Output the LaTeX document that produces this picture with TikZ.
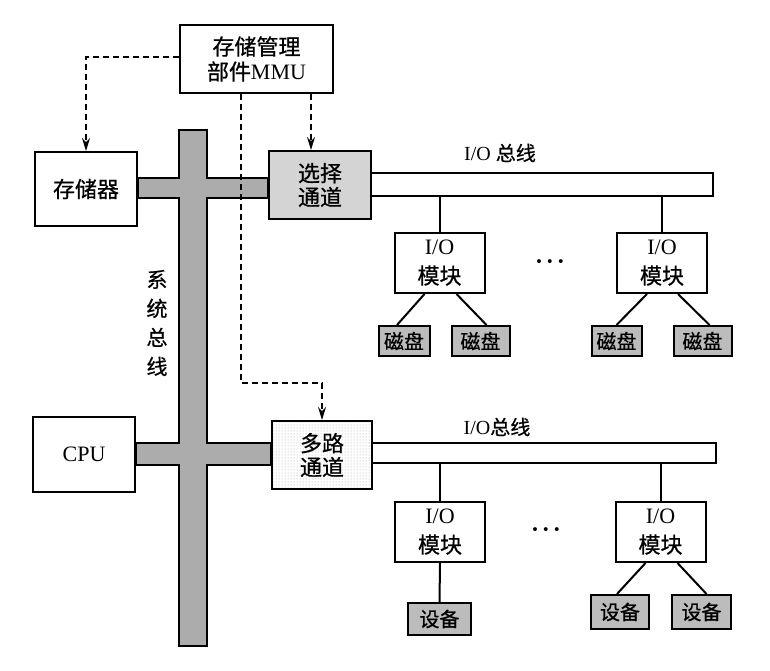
\documentclass[tikz,border=0pt]{standalone}
\usepackage{fontspec}
\setmainfont{Liberation Serif}
\newfontfamily\cjk{Noto Sans CJK SC}[FakeBold=0.7]
\usepackage{xcolor}
\usepackage{tikz}
\usetikzlibrary{arrows.meta,positioning,patterns,backgrounds}
\definecolor{busgray}{RGB}{172,172,172}
\definecolor{chgray}{RGB}{212,212,212}
\definecolor{diskgray}{RGB}{188,188,188}

\begin{document}
\begin{tikzpicture}[x=1pt, y=-1pt,
  box/.style={draw, line width=2pt, fill=white, inner sep=0pt, align=center,
    font=\fontsize{22}{25}\selectfont},
  modbox/.style={box, minimum width=90, minimum height=60, font=\fontsize{22}{29}\selectfont},
  smallbox/.style={draw, line width=2pt, fill=diskgray, inner sep=0pt, minimum height=30,
    font=\fontsize{20}{22}\selectfont\cjk},
  bus/.style={draw, line width=2pt, fill=busgray},
  iobus/.style={draw, line width=2pt},
  link/.style={line width=2pt},
  ctrl/.style={line width=1.4pt, dash pattern=on 6pt off 4pt, -{Stealth[length=13pt,width=8pt]}},
  buslabel/.style={font=\fontsize{20}{22}\selectfont},
  ellip/.style={font=\fontsize{24}{24}\selectfont\bfseries}]
  \useasboundingbox (0,0) rectangle (770,671);

  % top half: memory, MMU, selector channel
  \node[box, minimum width=153, minimum height=68] (mmu) at (256.5,59) {{\cjk 存储管理}\\{\cjk 部件}MMU};
  \node[box, minimum width=102, minimum height=74, font=\fontsize{22}{25}\selectfont\cjk] (mem) at (86,189) {存储器};
  \node[box, fill=chgray, minimum width=102, minimum height=68, font=\fontsize{22}{24}\selectfont\cjk] (sel) at (320,185) {选择\\通道};
  \node[modbox] (modA1) at (439.5,263) {I/O\\{\cjk 模块}};
  \node[modbox] (modA2) at (662,263) {I/O\\{\cjk 模块}};
  \node[smallbox, minimum width=51] (diskA1) at (404,341) {磁盘};
  \node[smallbox, minimum width=58] (diskA2) at (480.5,341) {磁盘};
  \node[smallbox, minimum width=50] (diskA3) at (616.5,341) {磁盘};
  \node[smallbox, minimum width=58] (diskA4) at (702.5,341) {磁盘};
  \node[ellip] (dotsA) at (550,265) {·\hspace{3pt}·\hspace{3pt}·};
  \node[buslabel] (busA) at (500,153) {I/O {\cjk 总线}};

  % bottom half: CPU, multiplexer channel
  \node[box, minimum width=102, minimum height=75] (cpu) at (84,454.5) {CPU};
  \node[box, preaction={fill=white}, pattern=dots, pattern color=gray!70, minimum width=100, minimum height=68,
    font=\fontsize{22}{24}\selectfont\cjk] (mux) at (322,455) {多路\\通道};
  \node[modbox] (modB1) at (440,532) {I/O\\{\cjk 模块}};
  \node[modbox] (modB2) at (660.5,532) {I/O\\{\cjk 模块}};
  \node[smallbox, minimum width=63, minimum height=32] (dev1) at (439.5,619) {设备};
  \node[smallbox, minimum width=58, minimum height=34] (dev2) at (620,612) {设备};
  \node[smallbox, minimum width=59, minimum height=34] (dev3) at (701.5,612) {设备};
  \node[ellip] (dotsB) at (546,533) {·\hspace{3pt}·\hspace{3pt}·};
  \node[buslabel] (busB) at (497,427) {I/O{\cjk 总线}};

  \node[align=center, font=\fontsize{21}{29}\selectfont\cjk] (syslbl) at (157,323) {系\\统\\总\\线};

  % system bus and I/O buses
  \begin{scope}[on background layer]
    \path[bus] (179,130) -- (207,130) -- (207,178) -- (sel.west |- 0,178) -- (sel.west |- 0,198)
      -- (207,198) -- (207,443) -- (mux.west |- 0,443) -- (mux.west |- 0,465) -- (207,465)
      -- (207,646) -- (179,646) -- (179,465) -- (cpu.east |- 0,465) -- (cpu.east |- 0,443)
      -- (179,443) -- (179,198) -- (mem.east |- 0,198) -- (mem.east |- 0,178) -- (179,178) -- cycle;
    \draw[iobus] (sel.east |- 0,173) -- (713,173) -- (713,196) -- (sel.east |- 0,196);
    \draw[iobus] (mux.east |- 0,443) -- (716,443) -- (716,463) -- (mux.east |- 0,463);
  \end{scope}

  \foreach \m in {modA1,modA2} \draw[link] (\m.north) -- (\m.north |- 0,196);
  \foreach \m in {modB1,modB2} \draw[link] (\m.north) -- (\m.north |- 0,463);
  \draw[link] ([xshift=-15]modA1.south) -- ([xshift=-7]diskA1.north);
  \draw[link] ([xshift=17]modA1.south) -- ([xshift=6]diskA2.north);
  \draw[link] ([xshift=-15]modA2.south) -- ([xshift=0]diskA3.north);
  \draw[link] ([xshift=16]modA2.south) -- ([xshift=7]diskA4.north);
  \draw[link] (modB1.south) -- (dev1.north);
  \draw[link] ([xshift=-15]modB2.south) -- ([xshift=-3]dev2.north);
  \draw[link] ([xshift=17]modB2.south) -- ([xshift=5]dev3.north);

  % MMU control lines
  \coordinate (selin) at ([xshift=-9]sel.north);
  \coordinate (mmuout) at ([xshift=-15.5]mmu.south);
  \draw[ctrl] ([yshift=2]mmu.west) -| (mem.north);
  \draw[ctrl] (mmu.south -| selin) -- (selin);
  \draw[ctrl] (mmuout) -- ++(0,289) -| (mux.north);
\end{tikzpicture}
\end{document}
